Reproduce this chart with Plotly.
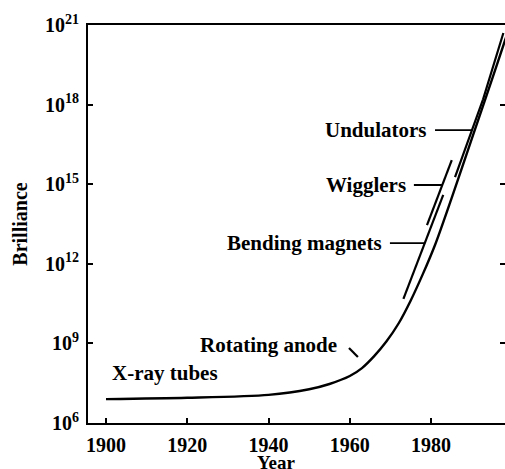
import numpy as np
import plotly.graph_objects as go

# brilliance given as log10 values
main_years = [1900, 1920, 1940, 1950, 1955, 1960, 1963, 1966, 1969, 1972,
              1975, 1978, 1981, 1985, 1990, 1995, 1998.2, 1999.5]
main_log = [6.90, 6.95, 7.06, 7.27, 7.47, 7.77, 8.07, 8.52, 9.07, 9.75,
            10.62, 11.62, 12.72, 14.45, 16.70, 18.95, 20.42, 21.00]

bend_years = [1973.2, 1983.0]
bend_log = [10.68, 14.60]
wig_years = [1979.0, 1985.1]
wig_log = [13.46, 15.91]
und_years = [1985.9, 1992.8, 1997.8]
und_log = [15.27, 18.20, 20.70]
anode_years = [1959.8, 1962.0]
anode_log = [8.83, 8.49]

x_ticks = [1900, 1920, 1940, 1960, 1980]
y_exps = [6, 9, 12, 15, 18, 21]

# labels with leader lines: text, right end of text (year), leader level (log10)
lead_text = ["Undulators", "Wigglers", "Bending magnets"]
lead_right = [1979.5, 1974.3, 1968.4]
lead_log = [17.04, 14.97, 12.78]
lead_segments = [(und_years, und_log), (wig_years, wig_log), (bend_years, bend_log)]

# free labels: text, centre year, centre log10
free_text = ["X-ray tubes", "Rotating anode"]
free_x = [1914.5, 1940.1]
free_log = [7.885, 8.94]

FONT = "Liberation Serif"
line_style = dict(color="black", width=2.2)
y_tickvals = [10.0 ** e for e in y_exps]

fig = go.Figure()
fig.add_trace(go.Scatter(x=main_years, y=10.0 ** np.array(main_log), mode="lines",
                         line=dict(color="black", width=2.4, shape="spline", smoothing=0.8),
                         hoverinfo="skip"))
for xs, ls in [(bend_years, bend_log), (wig_years, wig_log),
               (und_years, und_log), (anode_years, anode_log)]:
    fig.add_trace(go.Scatter(x=xs, y=10.0 ** np.array(ls), mode="lines",
                             line=line_style, hoverinfo="skip"))
# carrier for the right-hand tick marks
fig.add_trace(go.Scatter(x=[main_years[0]], y=[10.0 ** main_log[0]], yaxis="y2",
                         mode="markers", marker=dict(opacity=0), hoverinfo="skip"))

annotations = []
for text, right, lvl, (xs, ls) in zip(lead_text, lead_right, lead_log, lead_segments):
    tip = float(np.interp(lvl, ls, xs))
    annotations.append(dict(
        x=tip, y=lvl, xref="x", yref="y", ax=right, ay=lvl, axref="x", ayref="y",
        text=text, xanchor="right", showarrow=True, arrowhead=0, arrowwidth=1.8,
        arrowcolor="black", startstandoff=6,
        font=dict(family=FONT, size=21, color="black", weight="bold"),
    ))
for text, xc, lvl in zip(free_text, free_x, free_log):
    annotations.append(dict(
        x=xc, y=lvl, xref="x", yref="y", text=text, showarrow=False,
        font=dict(family=FONT, size=21, color="black", weight="bold"),
    ))
# x-axis title sits left of the plot centre in the original, so place it by hand
annotations.append(dict(
    x=0.453, y=-0.098, xref="paper", yref="paper", text="Year", showarrow=False,
    xanchor="center", yanchor="middle",
    font=dict(family=FONT, size=19, color="black", weight="bold"),
))

tick_font = dict(family=FONT, size=20, color="black", weight="bold")
fig.update_layout(
    width=505, height=469,
    margin=dict(l=88, r=0, t=25, b=46),
    paper_bgcolor="white", plot_bgcolor="white",
    showlegend=False,
    annotations=annotations,
    xaxis=dict(
        range=[1895.57, 1998.2], tickvals=x_ticks, ticks="inside", ticklen=5,
        tickwidth=1.5, tickcolor="black", showline=True, linewidth=2,
        linecolor="black", mirror=True, showgrid=False, zeroline=False,
        tickfont=tick_font, ticklabelstandoff=3, automargin=False,
    ),
    yaxis=dict(
        type="log", range=[6, 21], tickvals=y_tickvals,
        ticktext=[f"10<sup>{e}</sup>" for e in y_exps],
        ticks="inside", ticklen=5, tickwidth=1.5, tickcolor="black",
        showline=True, linewidth=2, linecolor="black", showgrid=False,
        zeroline=False, tickfont=tick_font, ticklabelstandoff=3, automargin=False,
        title=dict(text="Brilliance", standoff=12,
                   font=dict(family=FONT, size=20, color="black", weight="bold")),
    ),
    yaxis2=dict(
        type="log", range=[6, 21], overlaying="y", side="right",
        tickvals=y_tickvals, ticks="inside", ticklen=5,
        tickwidth=1.5, tickcolor="black", showticklabels=False,
        showline=False, showgrid=False, zeroline=False, automargin=False,
    ),
)

# the page body has a default margin; drop it so the figure sits at the window corner
fig.write_html(
    "out.html",
    config={"displayModeBar": False},
    post_script="document.body.style.margin='0';document.body.style.overflow='hidden';",
)
